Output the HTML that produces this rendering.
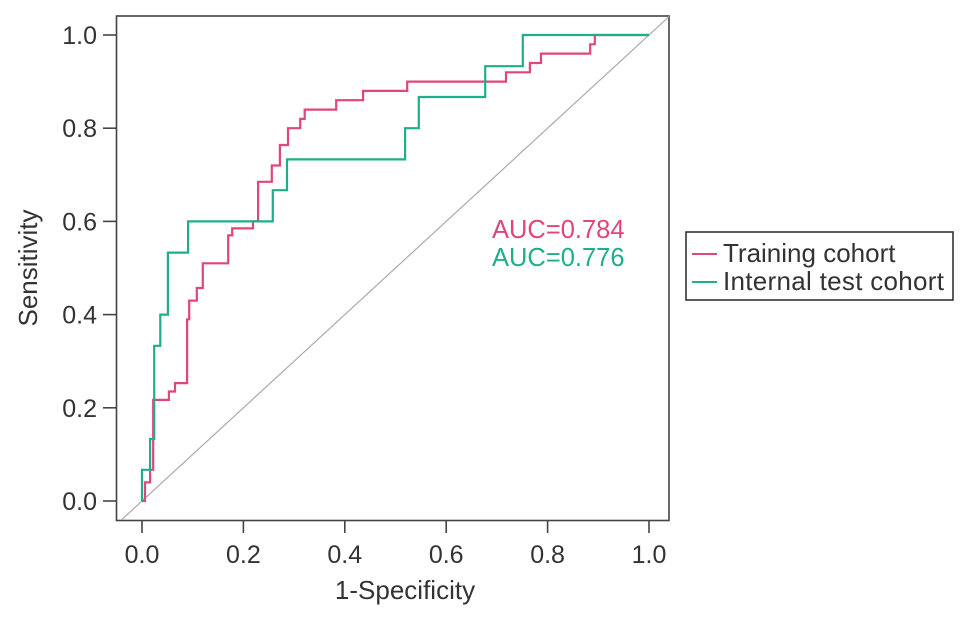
<!DOCTYPE html>
<html><head><meta charset="utf-8"><style>
body{margin:0;background:#fff}
svg{display:block;font-family:"Liberation Sans",Arial,sans-serif}
</style></head><body>
<svg id="chart" width="969" height="619" viewBox="0 0 969 619">
<defs><clipPath id="clip"><rect x="117" y="16" width="552" height="504"/></clipPath></defs>
<rect x="116.5" y="16" width="552.5" height="504.5" fill="none" stroke="#444" stroke-width="1.6"/>
<g id="axes"></g>
<g id="series" clip-path="url(#clip)"></g>
<text x="492" y="238" font-size="25.5" fill="#e0457b">AUC=0.784</text>
<text x="492" y="266" font-size="25.5" fill="#1fae8c">AUC=0.776</text>
<g>
<rect x="686" y="232" width="267" height="68" fill="#fff" stroke="#333" stroke-width="1.6"/>
<line x1="692" y1="254" x2="717" y2="254" stroke="#e0457b" stroke-width="2"/>
<text x="723" y="262" font-size="26" fill="#333">Training cohort</text>
<line x1="692" y1="282" x2="717" y2="282" stroke="#1fae8c" stroke-width="2"/>
<text x="723" y="290" font-size="26" fill="#333" textLength="221">Internal test cohort</text>
</g>
<text x="405" y="599" font-size="26" text-anchor="middle" fill="#333">1-Specificity</text>
<text transform="translate(37,268) rotate(-90)" font-size="26" text-anchor="middle" fill="#333">Sensitivity</text>
</svg>
<script>
const xTicks=[0,0.2,0.4,0.6,0.8,1.0];
const yTicks=[0,0.2,0.4,0.6,0.8,1.0];
const trainFpr=[0,0.006,0.006,0.016,0.016,0.022,0.022,0.053,0.053,0.065,0.065,0.089,0.089,0.093,0.093,0.108,0.108,0.120,0.120,0.170,0.170,0.178,0.178,0.219,0.219,0.229,0.229,0.256,0.256,0.272,0.272,0.288,0.288,0.312,0.312,0.321,0.321,0.383,0.383,0.436,0.436,0.523,0.523,0.718,0.718,0.765,0.765,0.787,0.787,0.884,0.884,0.893,0.893,1];
const trainTpr=[0,0,0.04,0.04,0.067,0.067,0.217,0.217,0.235,0.235,0.253,0.253,0.39,0.39,0.43,0.43,0.457,0.457,0.51,0.51,0.57,0.57,0.585,0.585,0.6,0.6,0.685,0.685,0.72,0.72,0.764,0.764,0.8,0.8,0.82,0.82,0.84,0.84,0.86,0.86,0.88,0.88,0.9,0.9,0.92,0.92,0.94,0.94,0.96,0.96,0.98,0.98,1,1];
const testFpr=[0,0,0.016,0.016,0.024,0.024,0.036,0.036,0.051,0.051,0.091,0.091,0.258,0.258,0.286,0.286,0.519,0.519,0.546,0.546,0.677,0.677,0.751,0.751,1];
const testTpr=[0,0.067,0.067,0.133,0.133,0.333,0.333,0.4,0.4,0.533,0.533,0.6,0.6,0.667,0.667,0.733,0.733,0.8,0.8,0.867,0.867,0.933,0.933,1,1];
const X=v=>142+v*507, Y=v=>501-v*466;
const NS="http://www.w3.org/2000/svg";
const axes=document.getElementById('axes'), ser=document.getElementById('series');
function mk(tag,attrs,parent){const e=document.createElementNS(NS,tag);for(const k in attrs)e.setAttribute(k,attrs[k]);parent.appendChild(e);return e;}
xTicks.forEach(t=>{
 const l=mk('line',{x1:X(t),x2:X(t),y1:520,y2:533,stroke:'#444','stroke-width':1.6},axes);
 
 
 const tx=mk('text',{x:X(t),y:563,'font-size':25,'text-anchor':'middle',fill:'#333'},axes);
 tx.textContent=t.toFixed(1);
 
 
});
yTicks.forEach(t=>{
 const l=mk('line',{x1:103,x2:117,y1:Y(t),y2:Y(t),stroke:'#444','stroke-width':1.6},axes);
 
 
 const tx=mk('text',{x:97,y:Y(t)+9,'font-size':25,'text-anchor':'end',fill:'#333'},axes);
 tx.textContent=t.toFixed(1);
 
 
});
const d=mk('line',{x1:X(-0.1),y1:Y(-0.1),x2:X(1.1),y2:Y(1.1),stroke:'#aaa','stroke-width':1.2},ser);


function path(fx,fy,color,name){
 const p=mk('path',{d:fx.map((v,i)=>(i?'L':'M')+X(v).toFixed(1)+','+Y(fy[i]).toFixed(1)).join(''),fill:'none',stroke:color,'stroke-width':2.2},ser);
 
 
}
path(trainFpr,trainTpr,'#e0457b','training-roc-curve');
path(testFpr,testTpr,'#1fae8c','test-roc-curve');
</script>
</body></html>
